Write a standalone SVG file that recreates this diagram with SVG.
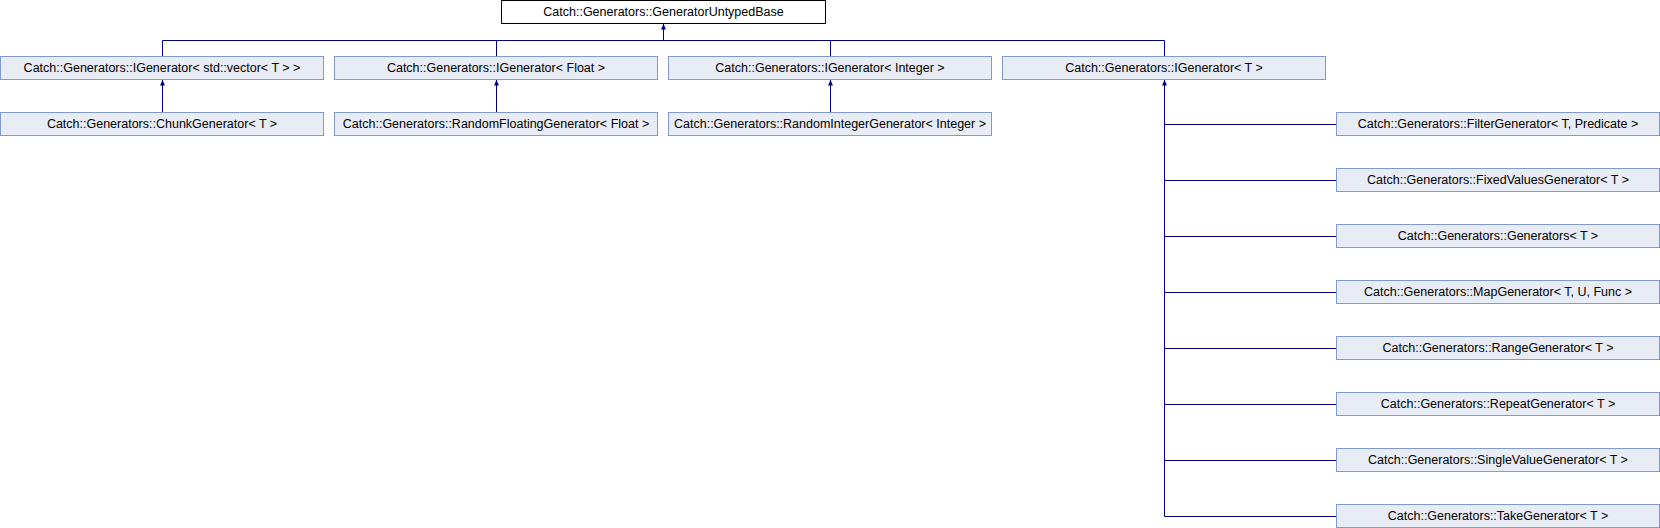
<svg xmlns="http://www.w3.org/2000/svg" width="1660" height="528" viewBox="0 0 1660 528">
<style>
rect.n{fill:#E8ECF5;stroke:#8199D0;stroke-width:1}
rect.r{fill:#FFFFFF;stroke:#000000;stroke-width:1}
text{font-family:"Liberation Sans",Arial,sans-serif;font-size:12.5px;fill:#000000;text-anchor:middle}
.c line,.c polyline{stroke:#000080;stroke-width:1;fill:none}
.c path{fill:#000080;stroke:none}
</style>
<rect width="1660" height="528" fill="#FFFFFF"/>
<g class="c" id="connectors">
<line x1="663.5" y1="24" x2="663.5" y2="40.5"/>
<line x1="162.5" y1="40.5" x2="1164.5" y2="40.5"/>
<line x1="162.5" y1="40.5" x2="162.5" y2="56.5"/>
<line x1="496.5" y1="40.5" x2="496.5" y2="56.5"/>
<line x1="830.5" y1="40.5" x2="830.5" y2="56.5"/>
<line x1="1164.5" y1="40.5" x2="1164.5" y2="56.5"/>
<path d="M663.5 24 L666 29.5 L661 29.5 Z"/>
<line x1="162.5" y1="80" x2="162.5" y2="112.5"/>
<line x1="496.5" y1="80" x2="496.5" y2="112.5"/>
<line x1="830.5" y1="80" x2="830.5" y2="112.5"/>
<path d="M162.5 80 L165 85.5 L160 85.5 Z"/>
<path d="M496.5 80 L499 85.5 L494 85.5 Z"/>
<path d="M830.5 80 L833 85.5 L828 85.5 Z"/>
<line x1="1164.5" y1="80" x2="1164.5" y2="516.5"/>
<path d="M1164.5 80 L1167 85.5 L1162 85.5 Z"/>
<line x1="1164.5" y1="124.5" x2="1336.5" y2="124.5"/>
<line x1="1164.5" y1="180.5" x2="1336.5" y2="180.5"/>
<line x1="1164.5" y1="236.5" x2="1336.5" y2="236.5"/>
<line x1="1164.5" y1="292.5" x2="1336.5" y2="292.5"/>
<line x1="1164.5" y1="348.5" x2="1336.5" y2="348.5"/>
<line x1="1164.5" y1="404.5" x2="1336.5" y2="404.5"/>
<line x1="1164.5" y1="460.5" x2="1336.5" y2="460.5"/>
<line x1="1164.5" y1="516.5" x2="1336.5" y2="516.5"/>
</g>
<g id="GeneratorUntypedBase"><rect class="r" x="501.5" y="0.5" width="324" height="23"/><text x="663.5" y="16">Catch::Generators::GeneratorUntypedBase</text></g>
<g id="IGenerator_vector"><rect class="n" x="0.5" y="56.5" width="323" height="23"/><text x="162" y="72">Catch::Generators::IGenerator&lt; std::vector&lt; T &gt; &gt;</text></g>
<g id="IGenerator_Float"><rect class="n" x="334.5" y="56.5" width="323" height="23"/><text x="496" y="72">Catch::Generators::IGenerator&lt; Float &gt;</text></g>
<g id="IGenerator_Integer"><rect class="n" x="668.5" y="56.5" width="323" height="23"/><text x="830" y="72">Catch::Generators::IGenerator&lt; Integer &gt;</text></g>
<g id="IGenerator_T"><rect class="n" x="1002.5" y="56.5" width="323" height="23"/><text x="1164" y="72">Catch::Generators::IGenerator&lt; T &gt;</text></g>
<g id="ChunkGenerator"><rect class="n" x="0.5" y="112.5" width="323" height="23"/><text x="162" y="128">Catch::Generators::ChunkGenerator&lt; T &gt;</text></g>
<g id="RandomFloatingGenerator"><rect class="n" x="334.5" y="112.5" width="323" height="23"/><text x="496" y="128">Catch::Generators::RandomFloatingGenerator&lt; Float &gt;</text></g>
<g id="RandomIntegerGenerator"><rect class="n" x="668.5" y="112.5" width="323" height="23"/><text x="830" y="128">Catch::Generators::RandomIntegerGenerator&lt; Integer &gt;</text></g>
<g id="FilterGenerator"><rect class="n" x="1336.5" y="112.5" width="323" height="23"/><text x="1498" y="128">Catch::Generators::FilterGenerator&lt; T, Predicate &gt;</text></g>
<g id="FixedValuesGenerator"><rect class="n" x="1336.5" y="168.5" width="323" height="23"/><text x="1498" y="184">Catch::Generators::FixedValuesGenerator&lt; T &gt;</text></g>
<g id="Generators"><rect class="n" x="1336.5" y="224.5" width="323" height="23"/><text x="1498" y="240">Catch::Generators::Generators&lt; T &gt;</text></g>
<g id="MapGenerator"><rect class="n" x="1336.5" y="280.5" width="323" height="23"/><text x="1498" y="296">Catch::Generators::MapGenerator&lt; T, U, Func &gt;</text></g>
<g id="RangeGenerator"><rect class="n" x="1336.5" y="336.5" width="323" height="23"/><text x="1498" y="352">Catch::Generators::RangeGenerator&lt; T &gt;</text></g>
<g id="RepeatGenerator"><rect class="n" x="1336.5" y="392.5" width="323" height="23"/><text x="1498" y="408">Catch::Generators::RepeatGenerator&lt; T &gt;</text></g>
<g id="SingleValueGenerator"><rect class="n" x="1336.5" y="448.5" width="323" height="23"/><text x="1498" y="464">Catch::Generators::SingleValueGenerator&lt; T &gt;</text></g>
<g id="TakeGenerator"><rect class="n" x="1336.5" y="504.5" width="323" height="23"/><text x="1498" y="520">Catch::Generators::TakeGenerator&lt; T &gt;</text></g>
</svg>
